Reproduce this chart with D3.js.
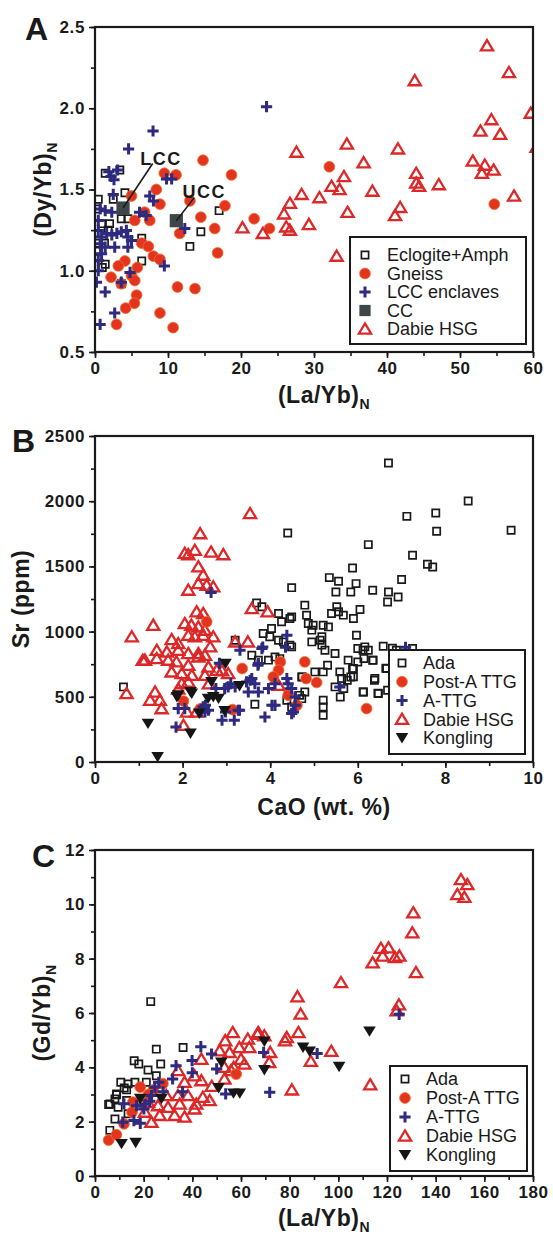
<!DOCTYPE html>
<html>
<head>
<meta charset="utf-8">
<script src="https://cdn.jsdelivr.net/npm/d3@7"></script>
<style>
  body { margin: 0; background: #fff; }
  svg text { font-family: "Liberation Sans", Arial, sans-serif; fill: #1a1a1a; }
</style>
</head>
<body>
<div id="container"></div>
<script>
/* DATA */
// panel A : (La/Yb)N vs (Dy/Yb)N
const aEclogite = [[1.4,1.6],[3.4,1.62],[4.1,1.48],[2.5,1.44],[17,1.37],[14.5,1.24],[13,1.15],[3.6,1.32],[4.5,1.32],[2.0,1.29],[1.8,1.25],[6.4,1.2],[0.45,1.08],[1.4,1.04],[6.4,1.06],[0.45,1.44],[0.9,1.29],[0.5,1.17],[3.6,0.92],[0.3,1.38],[1.0,1.02],[0.2,1.12],[1.3,1.17]];
const aGneiss = [[14.8,1.68],[9.5,1.6],[11.1,1.59],[18.7,1.59],[8.4,1.5],[5.0,1.46],[8.9,1.41],[13.0,1.43],[6.8,1.36],[5.45,1.31],[7.5,1.31],[14.5,1.33],[17.8,1.4],[21.8,1.32],[16.4,1.26],[11.6,1.23],[16.8,1.11],[6.4,1.17],[7.3,1.15],[8.0,1.09],[8.9,1.07],[4.1,1.06],[3.2,1.03],[5.8,1.02],[5.0,0.97],[2.2,0.96],[5.45,0.94],[3.6,0.92],[11.3,0.9],[13.7,0.89],[5.7,0.85],[5.4,0.8],[4.2,0.77],[8.9,0.74],[2.95,0.67],[10.7,0.65],[23.9,1.26],[54.7,1.41],[32.1,1.64]];
const aLcc = [[7.95,1.86],[4.6,1.75],[1.9,1.61],[3.1,1.62],[2.6,1.56],[2.2,1.58],[9.8,1.565],[10.5,1.565],[2.5,1.47],[7.5,1.46],[8.0,1.43],[0.7,1.38],[1.4,1.37],[2.3,1.36],[6.1,1.36],[7.0,1.34],[0.45,1.31],[12.3,1.26],[0.45,1.248],[0.9,1.207],[1.6,1.23],[2.3,1.22],[3.0,1.23],[3.6,1.24],[4.3,1.248],[4.5,1.207],[5.0,1.186],[0.7,1.166],[1.4,1.145],[2.7,1.145],[0.9,1.105],[4.5,1.145],[0.45,1.063],[9.5,1.03],[4.8,0.99],[3.6,0.93],[0.45,1.0],[0.2,0.93],[1.4,0.87],[2.7,0.74],[0.7,0.67],[23.5,2.01]];
const aCc = [[3.84,1.386],[11.14,1.308]];
const ccNames = ["LCC", "UCC"];
const ccLineEnds = [[7.9,1.66],[13.6,1.45]];
const ccLabelAt = [[6.2,1.65],[12.0,1.45]];
const aDabie = [[20.2,1.265],[23.0,1.23],[25.9,1.35],[26.2,1.27],[26.7,1.25],[26.7,1.415],[28.3,1.47],[29.3,1.285],[30.75,1.45],[32.4,1.52],[33.1,1.09],[33.5,1.5],[34.6,1.36],[38.0,1.49],[41.1,1.34],[41.8,1.39],[44.0,1.54],[44.4,1.52],[47.1,1.53],[57.4,1.46],[53.7,2.385],[56.7,2.22],[43.8,2.17],[59.7,1.97],[54.3,1.93],[52.8,1.86],[55.5,1.84],[27.6,1.73],[34.5,1.78],[41.5,1.75],[36.8,1.665],[51.75,1.675],[53.4,1.65],[54.6,1.62],[53.0,1.6],[34.1,1.58],[44.0,1.6],[60.5,1.76]];

// panel B : CaO vs Sr
const bAda = [[6.7,2293],[8.52,2002],[7.12,1884],[7.78,1910],[7.8,1769],[9.5,1777],[4.4,1756],[6.24,1667],[7.25,1585],[7.59,1516],[7.71,1495],[5.88,1488],[5.35,1414],[5.56,1386],[5.96,1368],[5.84,1304],[5.5,1304],[4.49,1337],[6.34,1317],[7.0,1399],[6.7,1304],[6.92,1265],[6.68,1227],[3.69,1220],[3.81,1190],[4.79,1203],[4.83,1126],[4.87,1062],[4.19,1139],[4.26,1075],[4.45,1100],[4.49,1113],[5.52,1190],[5.4,1139],[5.56,1152],[5.67,1126],[5.9,1100],[6.05,1169],[4.98,1049],[5.21,1049],[4.95,1011],[5.18,960],[5.33,1036],[4.03,1024],[3.84,985],[3.99,960],[4.19,934],[4.3,921],[4.45,896],[4.49,883],[4.95,921],[5.18,896],[5.25,857],[5.48,832],[5.14,934],[5.97,972],[6.0,870],[6.16,883],[6.24,857],[6.35,781],[6.58,888],[6.66,717],[6.39,640],[3.58,819],[3.73,781],[3.96,781],[4.11,806],[4.22,793],[5.78,781],[5.9,717],[5.59,691],[5.63,640],[5.48,576],[5.9,653],[6.13,537],[6.47,525],[5.31,742],[5.02,691],[5.21,691],[4.72,653],[4.79,537],[4.41,537],[4.38,473],[4.49,422],[4.72,486],[5.21,473],[5.21,422],[5.21,358],[3.65,443],[0.65,576],[3.2,934],[6.79,872],[6.88,857],[6.34,780],[6.38,627],[6.64,719],[6.46,527],[6.68,550],[6.12,857],[6.14,793],[6.0,767],[5.88,716],[5.76,627],[5.84,652],[6.12,537],[5.68,563],[5.6,498],[4.67,511],[4.73,652],[7.25,870]];
const bPostA = [[2.55,1075],[3.36,717],[4.23,767],[4.79,768],[4.19,704],[4.07,652],[4.82,640],[5.06,610],[4.41,512],[4.61,435],[6.2,410],[2.02,467],[3.14,402],[2.42,410]];
const bATtg = [[2.65,1300],[4.38,972],[4.35,880],[3.81,870],[3.31,857],[3.72,742],[2.84,757],[3.73,755],[3.04,576],[3.2,576],[3.54,627],[3.65,601],[3.5,537],[3.73,537],[3.96,563],[4.11,601],[4.38,640],[4.41,601],[4.49,563],[4.57,499],[4.57,435],[5.59,576],[4.11,435],[3.88,345],[4.49,371],[1.9,410],[2.05,410],[2.47,422],[2.59,397],[2.51,384],[2.9,320],[3.18,320],[3.27,397],[1.85,268],[2.52,435],[2.98,384],[3.3,397],[4.04,435],[3.83,882],[7.09,880],[3.58,640],[3.46,614],[2.96,563],[3.1,601],[2.76,563],[2.42,384],[4.53,384]];
const bDabie = [[2.4,1751],[2.28,1623],[2.05,1600],[2.13,1590],[2.65,1610],[2.93,1590],[3.54,1905],[2.36,1497],[2.47,1433],[2.36,1369],[2.55,1356],[2.7,1343],[2.13,1318],[3.58,1177],[3.94,1152],[1.33,1049],[0.84,960],[2.32,1152],[2.47,1139],[2.05,1062],[2.2,1049],[2.36,1036],[2.51,1011],[1.75,939],[1.9,908],[2.13,972],[2.28,960],[2.47,972],[2.7,960],[3.2,921],[3.49,921],[1.41,857],[1.64,844],[1.9,857],[2.13,832],[2.36,832],[2.51,819],[2.63,883],[1.14,781],[1.41,793],[1.67,781],[1.86,768],[2.13,742],[2.36,806],[2.59,729],[2.78,704],[1.75,691],[1.98,678],[2.21,665],[2.51,665],[3.04,678],[1.98,601],[2.13,614],[1.37,537],[1.26,473],[1.48,473],[1.52,409],[0.72,525],[4.19,588],[2.02,281],[2.32,384],[2.1,384],[1.09,780],[2.6,600],[2.9,700],[1.9,560]];
const bKongling = [[2.98,754],[2.66,613],[2.18,537],[1.87,498],[2.58,486],[2.7,498],[2.82,486],[3.3,583],[2.38,371],[2.96,391],[1.21,294],[2.18,218],[1.43,38],[2.21,525],[1.9,512]];

// panel C : (La/Yb)N vs (Gd/Yb)N
const cAda = [[22.9,6.42],[25.2,4.67],[36.2,4.73],[16.1,4.24],[18.0,4.12],[27.0,4.12],[21.8,3.9],[25.2,3.69],[13.6,3.39],[12.0,3.24],[16.4,3.45],[21.1,3.45],[8.9,3.02],[8.2,2.84],[6.1,2.65],[9.5,2.53],[13.0,2.78],[8.2,2.1],[13.6,2.29],[6.1,1.68],[10.6,3.45],[13,3.17],[5.6,2.63],[8.8,2.99]];
const cPostA = [[5.6,1.32],[8.8,1.52],[18.6,3.27],[15.6,2.72],[15.2,2.35],[11.9,1.92],[24,3.17],[27.9,3.4],[58,3.75],[22,3.0]];
const cATtg = [[43.5,4.76],[47.9,4.49],[39.9,4.25],[33.3,4.06],[31.9,3.57],[26.2,3.45],[24.6,3.27],[23.2,2.96],[20.5,2.65],[17.1,2.59],[11.9,2.66],[11.4,1.98],[16,2.04],[18.6,1.94],[20.1,2.47],[22.5,2.75],[50,3.94],[53.7,3.02],[71.8,3.08],[69.3,4.55],[91.3,4.51],[125,5.95],[36,3.1],[40,3.8],[28,3.1]];
const cDabie = [[150.4,10.91],[153,10.73],[148.9,10.36],[151.8,10.26],[130.8,9.69],[130.4,8.95],[117.5,8.38],[120.6,8.4],[118.2,8.1],[123.3,8.04],[125.1,8.1],[114.1,7.85],[131.9,7.49],[101.1,7.12],[83.2,6.6],[84.5,5.96],[124.9,6.3],[124,6.08],[83.6,5.28],[78.1,4.98],[78.8,5.1],[113.1,3.36],[80.9,3.17],[97.1,4.59],[88.7,4.22],[56.6,5.28],[53.5,4.98],[62.8,5.04],[66.8,5.22],[69.6,5.16],[51.2,4.61],[55.3,4.55],[59.3,4.73],[63.4,4.73],[72,4.55],[71.6,4.18],[43.7,4.3],[60,4.3],[61.4,4.12],[53.2,4.0],[55.9,3.88],[53.2,3.57],[34.1,3.88],[40.9,3.69],[36.8,3.45],[43.7,3.51],[29.3,2.96],[34.1,2.96],[38.2,2.96],[44.3,2.9],[47.1,2.78],[25.9,2.59],[30,2.53],[34.8,2.65],[40.9,2.47],[41.6,2.65],[20.5,2.35],[26.6,2.23],[32.7,2.23],[36.8,2.17],[23.2,1.98],[21.8,2.71],[19.1,2.65],[67.1,5.28],[48,3.3],[57,4.0]];
const cKongling = [[10.9,1.18],[16.7,1.22],[18.6,2.84],[27.3,2.84],[50.8,3.24],[51.9,4.18],[69.6,3.9],[69.6,4.95],[85.5,4.73],[88.2,4.58],[100.3,4.02],[112.8,5.32],[56.9,3.04],[59.5,3.04]];

// tick labels
const aXTicks = [0, 10, 20, 30, 40, 50, 60];
const aYTicks = [0.5, 1.0, 1.5, 2.0, 2.5];
const bXTicks = [0, 2, 4, 6, 8, 10];
const bYTicks = [0, 500, 1000, 1500, 2000, 2500];
const cXTicks = [0, 20, 40, 60, 80, 100, 120, 140, 160, 180];
const cYTicks = [0, 2, 4, 6, 8, 10, 12];

/* SYMBOLS */
const shapes = {
  square: "M-3.6,-3.6H3.6V3.6H-3.6Z",
  circle: "M5.4,0A5.4,5.4 0 1,1 -5.4,0A5.4,5.4 0 1,1 5.4,0Z",
  cross: "M-5.6,0H5.6M0,-5.6V5.6",
  tri: "M0,-5.6L6.1,4.6H-6.1Z",
  down: "M0,5.4L-6.3,-5H6.3Z",
  cc: "M-6.6,-6.6H6.6V6.6H-6.6Z"
};
const styles = {
  square: { fill: "none", stroke: "#1a1a1a", sw: 1.7 },
  circle: { fill: "#e2341f", stroke: "#f0702a", sw: 0.8 },
  cross: { fill: "none", stroke: "#2d2a7f", sw: 3 },
  tri: { fill: "none", stroke: "#dc2828", sw: 2.3 },
  down: { fill: "#151515", stroke: "none", sw: 0 },
  cc: { fill: "#3f4649", stroke: "none", sw: 0 }
};

const width = 553, height = 1236;
const left = 95, right = 533;

const svg = d3.select("#container")
  .append("svg")
  .attr("width", width)
  .attr("height", height);

function drawPanel(p) {
  const xScale = d3.scaleLinear().domain(p.xDomain).range([left, right]);
  const yScale = d3.scaleLinear().domain(p.yDomain).range([p.bottom, p.top]);
  const g = svg.append("g");

  // minor ticks
  const xMinor = d3.range(p.xDomain[0], p.xDomain[1] + 1e-9, p.xMinor);
  const yMinor = d3.range(p.yDomain[0], p.yDomain[1] + 1e-9, p.yMinor);
  g.append("g")
    .attr("transform", `translate(0, ${p.bottom})`)
    .call(d3.axisBottom(xScale).tickValues(xMinor).tickSize(4).tickFormat(""));
  g.append("g")
    .attr("transform", `translate(${left}, 0)`)
    .call(d3.axisLeft(yScale).tickValues(yMinor).tickSize(4).tickFormat(""));

  // major ticks + labels
  g.append("g")
    .attr("class", "xaxis")
    .attr("transform", `translate(0, ${p.bottom})`)
    .call(d3.axisBottom(xScale).tickValues(p.xTicks).tickSize(6).tickPadding(4).tickFormat(p.xFormat));
  g.append("g")
    .attr("transform", `translate(${left}, 0)`)
    .call(d3.axisLeft(yScale).tickValues(p.yTicks).tickSize(6).tickPadding(4).tickFormat(p.yFormat));

  g.selectAll(".domain").remove();
  g.selectAll(".tick line").attr("stroke", "#1a1a1a").attr("stroke-width", 1.6);
  g.selectAll(".tick text")
    .style("font-size", "17px")
    .style("font-weight", "bold")
    .style("letter-spacing", "0.6px")
    .attr("fill", "#1a1a1a");

  // marks
  const clipId = "clip" + p.letter;
  svg.append("clipPath").attr("id", clipId)
    .append("rect")
    .attr("x", left).attr("y", p.top)
    .attr("width", right - left).attr("height", p.bottom - p.top);
  const marks = g.append("g").attr("clip-path", `url(#${clipId})`);

  p.series.forEach(s => {
    const st = styles[s.shape];
    marks.append("g").selectAll("path")
      .data(s.data)
      .join("path")
      .attr("d", shapes[s.shape])
      .attr("transform", d => `translate(${xScale(d[0])}, ${yScale(d[1])})`)
      .attr("fill", st.fill)
      .attr("stroke", st.stroke)
      .attr("stroke-width", st.sw);
  });

  if (p.extra) p.extra(g, xScale, yScale);

  // frame
  g.append("rect")
    .attr("x", left).attr("y", p.top)
    .attr("width", right - left).attr("height", p.bottom - p.top)
    .attr("fill", "none")
    .attr("stroke", "#1a1a1a")
    .attr("stroke-width", 2.2);

  // legend
  const L = p.legend;
  const lg = g.append("g");
  lg.append("rect")
    .attr("x", L.x).attr("y", L.y)
    .attr("width", L.w).attr("height", L.h)
    .attr("fill", "#fff")
    .attr("stroke", "#1a1a1a")
    .attr("stroke-width", 2);
  p.series.slice().sort((a, b) => a.order - b.order).forEach((s, i) => {
    const st = styles[s.shape];
    const cy = L.first + i * L.step;
    lg.append("path")
      .attr("d", shapes[s.shape])
      .attr("transform", `translate(${L.sym}, ${cy})` + (s.shape === "cc" ? " scale(0.85)" : ""))
      .attr("fill", st.fill)
      .attr("stroke", st.stroke)
      .attr("stroke-width", st.sw);
    lg.append("text")
      .attr("x", L.text).attr("y", cy)
      .attr("dy", "0.36em")
      .style("font-size", "18px")
      .text(s.name);
  });

  // panel letter
  g.append("text")
    .attr("x", p.letterPos[0]).attr("y", p.letterPos[1])
    .style("font-size", "32px").style("font-weight", "bold")
    .text(p.letter);

  // x title
  const xt = g.append("text")
    .attr("x", (left + right) / 2 + 10).attr("y", p.xTitleY)
    .attr("text-anchor", "middle")
    .style("font-size", "23px").style("font-weight", "bold")
    .style("letter-spacing", "0.5px");
  xt.append("tspan").text(p.xTitle[0]);
  if (p.xTitle[1]) xt.append("tspan").attr("dy", 6).style("font-size", "14px").text(p.xTitle[1]);

  // y title
  const yt = g.append("text")
    .attr("transform", `translate(${p.yTitleX}, ${(p.top + p.bottom) / 2}) rotate(-90)`)
    .attr("text-anchor", "middle")
    .style("font-size", "23px").style("font-weight", "bold")
    .style("letter-spacing", "0.5px");
  yt.append("tspan").text(p.yTitle[0]);
  if (p.yTitle[1]) yt.append("tspan").attr("dy", 6).style("font-size", "14px").text(p.yTitle[1]);
}

/* PANEL A */
drawPanel({
  letter: "A", letterPos: [25, 40],
  top: 27, bottom: 352,
  xDomain: [0, 60], yDomain: [0.5, 2.5], xMinor: 5, yMinor: 0.25,
  xTicks: aXTicks, yTicks: aYTicks,
  xFormat: d3.format("d"), yFormat: d3.format(".1f"),
  xTitle: ["(La/Yb)", "N"], xTitleY: 403,
  yTitle: ["(Dy/Yb)", "N"], yTitleX: 51,
  series: [
    { name: "Eclogite+Amph", shape: "square", data: aEclogite, order: 0 },
    { name: "Gneiss", shape: "circle", data: aGneiss, order: 1 },
    { name: "LCC enclaves", shape: "cross", data: aLcc, order: 2 },
    { name: "Dabie HSG", shape: "tri", data: aDabie, order: 4 },
    { name: "CC", shape: "cc", data: aCc, order: 3 }
  ],
  legend: { x: 350, y: 237, w: 176, h: 107, first: 255, step: 18.5, sym: 365, text: 387 },
  extra: (g, xScale, yScale) => {
    aCc.forEach((d, i) => {
      g.append("line")
        .attr("x1", xScale(d[0])).attr("y1", yScale(d[1]))
        .attr("x2", xScale(ccLineEnds[i][0])).attr("y2", yScale(ccLineEnds[i][1]))
        .attr("stroke", "#1a1a1a").attr("stroke-width", 1.6);
      g.append("text")
        .attr("x", xScale(ccLabelAt[i][0])).attr("y", yScale(ccLabelAt[i][1]))
        .style("font-size", "18px").style("font-weight", "bold")
        .style("letter-spacing", "1.5px")
        .text(ccNames[i]);
    });
  }
});

/* PANEL B */
drawPanel({
  letter: "B", letterPos: [12, 452],
  top: 436, bottom: 762,
  xDomain: [0, 10], yDomain: [0, 2500], xMinor: 1, yMinor: 250,
  xTicks: bXTicks, yTicks: bYTicks,
  xFormat: d3.format("d"), yFormat: d3.format("d"),
  xTitle: ["CaO (wt. %)"], xTitleY: 815,
  yTitle: ["Sr (ppm)"], yTitleX: 29,
  series: [
    { name: "Ada", shape: "square", data: bAda, order: 0 },
    { name: "Dabie HSG", shape: "tri", data: bDabie, order: 3 },
    { name: "Post-A TTG", shape: "circle", data: bPostA, order: 1 },
    { name: "A-TTG", shape: "cross", data: bATtg, order: 2 },
    { name: "Kongling", shape: "down", data: bKongling, order: 4 }
  ],
  legend: { x: 389, y: 650, w: 136, h: 104, first: 663, step: 18.75, sym: 402, text: 423 }
});

/* PANEL C */
drawPanel({
  letter: "C", letterPos: [32, 867],
  top: 850, bottom: 1176,
  xDomain: [0, 180], yDomain: [0, 12], xMinor: 10, yMinor: 1,
  xTicks: cXTicks, yTicks: cYTicks,
  xFormat: d3.format("d"), yFormat: d3.format("d"),
  xTitle: ["(La/Yb)", "N"], xTitleY: 1226,
  yTitle: ["(Gd/Yb)", "N"], yTitleX: 50,
  series: [
    { name: "Ada", shape: "square", data: cAda, order: 0 },
    { name: "Dabie HSG", shape: "tri", data: cDabie, order: 3 },
    { name: "Post-A TTG", shape: "circle", data: cPostA, order: 1 },
    { name: "A-TTG", shape: "cross", data: cATtg, order: 2 },
    { name: "Kongling", shape: "down", data: cKongling, order: 4 }
  ],
  legend: { x: 390, y: 1066, w: 137, h: 105, first: 1079, step: 19, sym: 405, text: 426 }
});
</script>
</body>
</html>
